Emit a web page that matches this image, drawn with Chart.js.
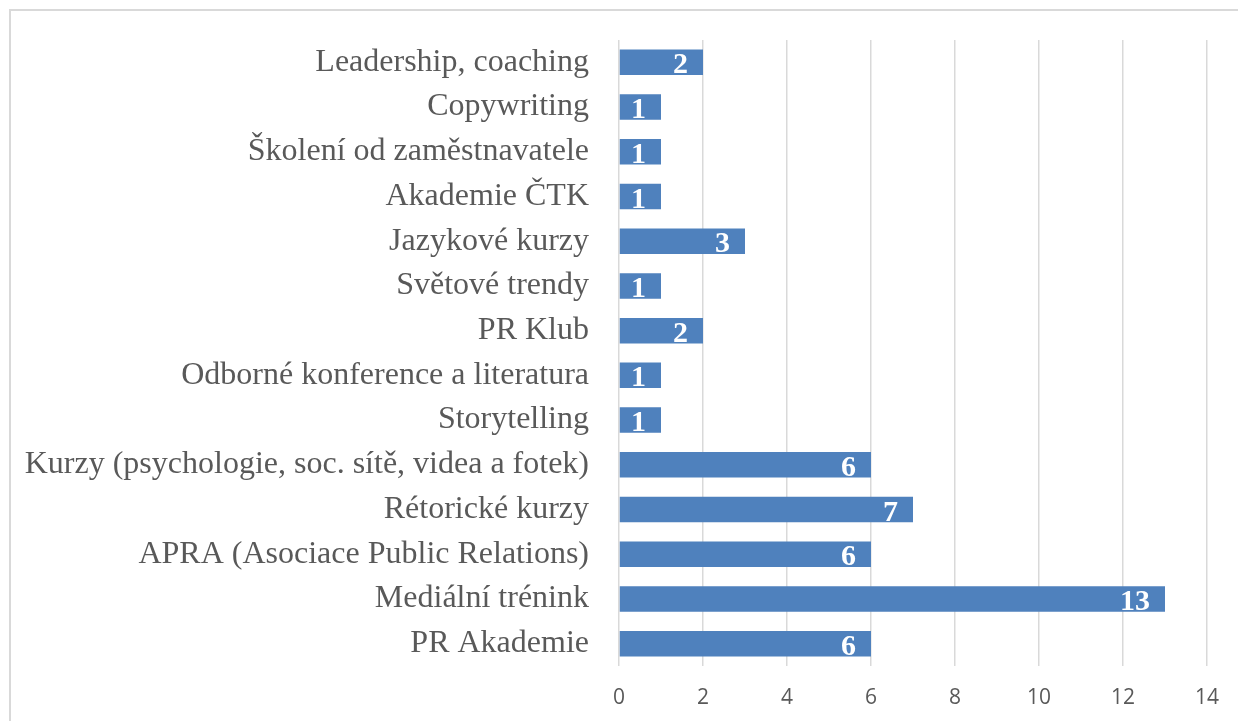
<!DOCTYPE html>
<html>
<head>
<meta charset="utf-8">
<script src="https://cdn.jsdelivr.net/npm/chart.js@4.4.0/dist/chart.umd.min.js"></script>
<style>
  html, body { margin: 0; padding: 0; background: #fff; overflow: hidden; }
  #wrap { position: relative; width: 1238px; height: 721px; }
  #frame { position: absolute; left: 9px; top: 9px; width: 1300px; height: 800px;
           border: 2px solid #d9d9d9; pointer-events: none; }
</style>
</head>
<body>
<div id="wrap">
  <canvas id="myChart"></canvas>
  <div id="frame"></div>
</div>
<script>
var labels = [
  'Leadership, coaching',
  'Copywriting',
  'Školení od zaměstnavatele',
  'Akademie ČTK',
  'Jazykové kurzy',
  'Světové trendy',
  'PR Klub',
  'Odborné konference a literatura',
  'Storytelling',
  'Kurzy (psychologie, soc. sítě, videa a fotek)',
  'Rétorické kurzy',
  'APRA (Asociace Public Relations)',
  'Mediální trénink',
  'PR Akademie'
];
var counts = [2, 1, 1, 1, 3, 1, 2, 1, 1, 6, 7, 6, 13, 6];
var xTicks = [0, 2, 4, 6, 8, 10, 12, 14];

// white value labels inside the bar end
var valueLabels = {
  id: 'valueLabels',
  afterDatasetsDraw: function(chart) {
    var ctx = chart.ctx;
    var meta = chart.getDatasetMeta(0);
    ctx.save();
    ctx.fillStyle = '#ffffff';
    ctx.font = 'bold 30px "Liberation Serif", "Times New Roman", serif';
    ctx.textAlign = 'right';
    ctx.textBaseline = 'alphabetic';
    meta.data.forEach(function(bar, i) {
      ctx.fillText(String(counts[i]), bar.x - 15, bar.y + 11);
    });
    ctx.restore();
  }
};

function renderChart() {
  var ctx = document.getElementById('myChart').getContext('2d');
  var myChart = new Chart(ctx, {
    type: 'bar',
    data: {
      labels: labels,
      datasets: [{
        data: counts,
        backgroundColor: '#4f81bd',
        borderWidth: 0,
        barPercentage: 0.57,
        categoryPercentage: 1
      }]
    },
    options: {
      indexAxis: 'y',
      responsive: true,
      maintainAspectRatio: false,
      animation: false,
      layout: { padding: { top: 40, right: 31, bottom: 0, left: 0 } },
      plugins: { legend: { display: false }, tooltip: { enabled: false } },
      scales: {
        x: {
          min: 0,
          max: 14,
          afterBuildTicks: function(scale) {
            scale.ticks = xTicks.map(function(v) { return { value: v }; });
          },
          afterFit: function(scale) {
            scale.height = 55;
            scale.paddingLeft = 0;
            scale.paddingRight = 0;
          },
          grid: { color: '#d9d9d9', lineWidth: 1.5, drawTicks: false },
          border: { display: false },
          ticks: {
            padding: 19,
            color: '#595959',
            font: { family: '"Liberation Sans Narrow", "Open Sans", sans-serif', size: 21 }
          }
        },
        y: {
          afterFit: function(scale) {
            scale.width = 619;
            scale.paddingTop = 0;
            scale.paddingBottom = 0;
          },
          grid: { display: false, drawTicks: false },
          border: { display: false },
          ticks: {
            padding: 30,
            color: '#595959',
            font: { family: '"Liberation Serif", "Times New Roman", serif', size: 32 }
          }
        }
      }
    },
    plugins: [valueLabels]
  });
}

renderChart();
</script>
</body>
</html>
